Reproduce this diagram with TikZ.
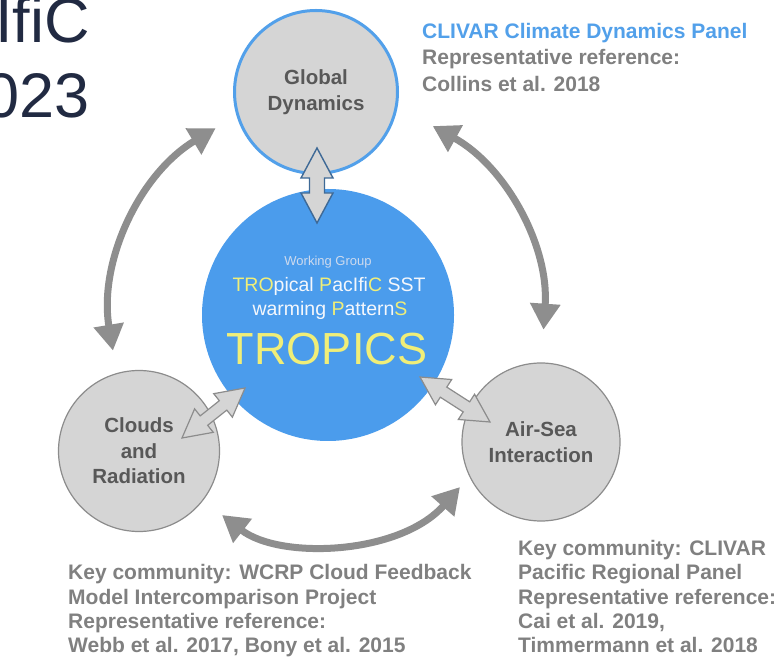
\documentclass[tikz,border=0pt]{standalone}
\usepackage{fontspec}
\setmainfont{Liberation Sans}
\usetikzlibrary{calc,arrows.meta}
\definecolor{tropblue}{RGB}{75,156,236}
\definecolor{globblue}{RGB}{82,160,234}
\definecolor{circgray}{RGB}{213,213,213}
\definecolor{circline}{RGB}{140,140,140}
\definecolor{labgray}{RGB}{88,88,88}
\definecolor{txtgray}{RGB}{128,128,128}
\definecolor{arcgray}{RGB}{142,142,142}
\definecolor{pyellow}{RGB}{240,238,120}
\definecolor{wgtext}{RGB}{205,218,238}
\definecolor{ptwhite}{RGB}{244,247,252}
\definecolor{navy}{RGB}{33,42,66}
\definecolor{steel}{RGB}{62,105,150}
% double block arrow: #1 style, #2 from, #3 to, #4 head length, #5 head half width, #6 shaft half width
\newcommand{\blockdbl}[6]{%
  \path[#1] let \p1=($(#3)-(#2)$), \n1={atan2(\y1,\x1)}, \n2={veclen(\x1,\y1)} in
    (#2) -- ($(#2)+(\n1:#4)+(\n1+90:#5)$) -- ($(#2)+(\n1:#4)+(\n1+90:#6)$)
    -- ($(#2)+(\n1:{\n2-#4})+(\n1+90:#6)$) -- ($(#2)+(\n1:{\n2-#4})+(\n1+90:#5)$)
    -- (#3)
    -- ($(#2)+(\n1:{\n2-#4})+(\n1-90:#5)$) -- ($(#2)+(\n1:{\n2-#4})+(\n1-90:#6)$)
    -- ($(#2)+(\n1:#4)+(\n1-90:#6)$) -- ($(#2)+(\n1:#4)+(\n1-90:#5)$) -- cycle;}
\begin{document}
\begin{tikzpicture}[x=1pt,y=1pt,
  bubble/.style={circle, draw=circline, line width=1.2pt, fill=circgray, minimum size=161pt,
    inner sep=0pt, text=labgray, align=center, font=\fontsize{20.5}{25.5}\selectfont\bfseries},
  infotxt/.style={anchor=base west, inner sep=0pt, text=txtgray, font=\fontsize{21}{25}\selectfont\bfseries},
  garrow/.style={draw=arcgray, line width=7pt,
    {Triangle[length=26pt,width=29pt]}-{Triangle[length=26pt,width=29pt]}},
  blkgray/.style={draw=circline, line width=1.2pt, fill=circgray, line join=miter},
  blkblue/.style={draw=steel, line width=1.4pt, fill=circgray, line join=miter}]
\useasboundingbox (0,0) rectangle (784,659);
\fill[white] (0,0) rectangle (784,659);

% title fragment (cropped at the left edge, as in the slide)
\begin{scope}
\clip (0,0) rectangle (784,659);
\node[anchor=base east, inner sep=0pt, text=navy, font=\fontsize{63}{70}\selectfont] (title1) at (90,616) {PacIfiC};
\node[anchor=base east, inner sep=0pt, text=navy, font=\fontsize{63}{70}\selectfont] (title2) at (90,541) {2023};
\end{scope}

% circles
\node[bubble, draw=globblue, line width=3pt, minimum size=163pt] (glob) at (316,567) {Global\\Dynamics};
\node[circle, fill=tropblue, minimum size=252pt, inner sep=0pt] (trop) at (328,344) {};
\node[bubble] (cloud) at (139,208) {Clouds\\and\\Radiation};
\node[bubble, minimum size=158pt] (airsea) at (541,217) {Air-Sea\\Interaction};

% TROPICS texts
\node[anchor=base, inner sep=0pt, text=wgtext, font=\fontsize{13}{15}\selectfont] (wg) at (328,393) {Working Group};
\node[anchor=base, inner sep=0pt, text=ptwhite, font=\fontsize{19.5}{22}\selectfont] (l1) at (329,367)
  {\textcolor{pyellow}{TRO}pical \textcolor{pyellow}{P}acIfi\textcolor{pyellow}{C} SST};
\node[anchor=base, inner sep=0pt, text=ptwhite, font=\fontsize{19.5}{22}\selectfont] (l2) at (330,343)
  {warming \textcolor{pyellow}{P}attern\textcolor{pyellow}{S}};
\node[anchor=base, inner sep=0pt, text=pyellow, font=\fontsize{45}{50}\selectfont] (tname) at (327,294) {TROPICS};

% curved gray arrows
\coordinate (lA) at ($(trop.center)+(121:218)$);
\coordinate (rA) at ($(trop.center)+(61:216)$);
\coordinate (bL) at (222,144);
\coordinate (bR) at (460,172);
\draw[garrow] (lA) arc[start angle=121, end angle=189.4, radius=218];
\draw[garrow] (rA) arc[start angle=61, end angle=-3.9, radius=216];
\draw[garrow] (bL) .. controls (280,99) and (400,104) .. (bR);

% block double arrows
\coordinate (gA) at (317,511);
\coordinate (gB) at (317,436);
\coordinate (cA) at (182,221);
\coordinate (cB) at (245,271);
\coordinate (sA) at (420,282);
\coordinate (sB) at (490,237);
\blockdbl{blkblue}{gA}{gB}{30}{16}{7.5}
\blockdbl{blkgray}{cA}{cB}{28}{15}{6}
\blockdbl{blkgray}{sA}{sB}{28}{15}{6}

% info texts
\node[infotxt, text=globblue] (c1) at (422,620.5) {CLIVAR Climate Dynamics Panel};
\node[infotxt] (c2) at (422,594) {Representative reference:};
\node[infotxt] (c3) at (422,567.5) {Collins et al. 2018};

\node[infotxt] (w1) at (68,80) {Key community: WCRP Cloud Feedback};
\node[infotxt] (w2) at (68,55) {Model Intercomparison Project};
\node[infotxt] (w3) at (68,31) {Representative reference:};
\node[infotxt] (w4) at (68,7) {Webb et al. 2017, Bony et al. 2015};

\node[infotxt] (p1) at (518,104) {Key community: CLIVAR};
\node[infotxt] (p2) at (518,80) {Pacific Regional Panel};
\node[infotxt] (p3) at (518,55) {Representative reference:};
\node[infotxt] (p4) at (518,31) {Cai et al. 2019,};
\node[infotxt] (p5) at (518,7) {Timmermann et al. 2018};
\end{tikzpicture}
\end{document}
